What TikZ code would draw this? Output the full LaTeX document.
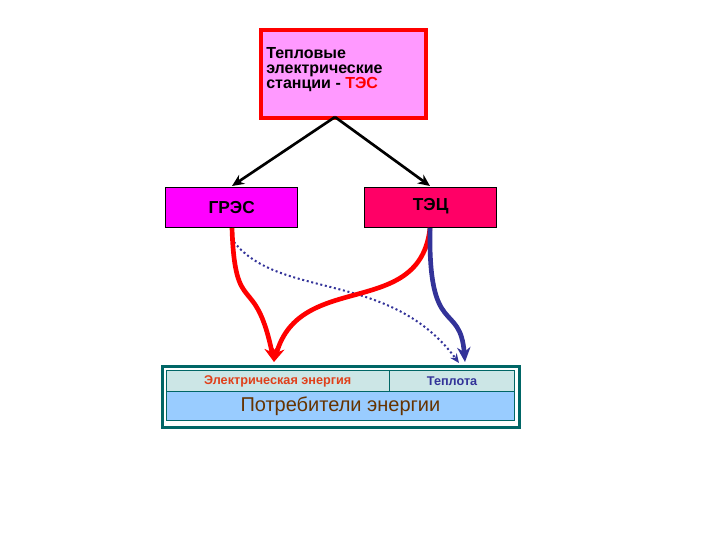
\documentclass[tikz,border=0pt]{standalone}
\usepackage{fontspec}
\setmainfont{Liberation Sans}
\usetikzlibrary{arrows.meta}
\definecolor{toppink}{HTML}{FF99FF}
\definecolor{grescol}{HTML}{FF00FF}
\definecolor{teccol}{HTML}{FF0066}
\definecolor{tealb}{HTML}{006666}
\definecolor{rowc}{HTML}{CCE6E6}
\definecolor{lowc}{HTML}{99CCFF}
\definecolor{bluec}{HTML}{333399}
\definecolor{brownc}{HTML}{663300}
\definecolor{elc}{HTML}{E0401A}
\begin{document}
\begin{tikzpicture}[x=0.75pt,y=-0.75pt,
 box/.style={draw=black,line width=1pt,inner sep=0pt,font=\bfseries\fontsize{13}{14}\selectfont},
 blk/.style={-{Stealth[length=9pt,width=8pt]},line width=2pt},
 red/.style={-{Stealth[length=11pt,width=10pt]},line width=3.5pt,draw=red},
 blu/.style={-{Stealth[length=11pt,width=10pt]},line width=3.5pt,draw=bluec}]
\useasboundingbox (0,0) rectangle (720,540);
\node[draw=red,line width=3pt,fill=toppink,minimum width=165\pgflinewidth/3,inner sep=0pt,anchor=north west,minimum width=124pt,minimum height=66pt] (tes) at (259,28) {};
\node[anchor=north west,align=left,font=\bfseries\fontsize{12}{11.5}\selectfont,inner sep=0pt] (testxt) at (266,47) {Тепловые\\электрические\\станции - \textcolor{red}{ТЭС}};
\node[box,fill=grescol,anchor=north west,minimum width=99pt,minimum height=30pt] (gres) at (165,187) {ГРЭС};
\node[box,fill=teccol,anchor=north west,minimum width=99pt,minimum height=30pt] (tec) at (364,187) {\raisebox{5pt}{ТЭЦ}};
\node[draw=tealb,line width=2pt,fill=white,anchor=north west,minimum width=268pt,minimum height=46pt,inner sep=0pt] (outer) at (161,365) {};
\node[draw=tealb,line width=0.6pt,fill=rowc,anchor=north west,minimum width=167pt,minimum height=16pt,inner sep=0pt,font=\bfseries\fontsize{9.5}{10}\selectfont,text=elc] (el) at (166,370) {\raisebox{2pt}{Электрическая энергия}};
\node[draw=tealb,line width=0.6pt,fill=rowc,anchor=north west,minimum width=94pt,minimum height=16pt,inner sep=0pt,font=\bfseries\fontsize{9.5}{10}\selectfont,text=bluec] (tep) at (389,370) {Теплота};
\node[draw=tealb,line width=0.6pt,fill=lowc,anchor=north west,minimum width=261pt,minimum height=22pt,inner sep=0pt,font=\fontsize{15}{16}\selectfont,text=brownc] (cons) at (166,391) {Потребители энергии};
\coordinate (topb) at (335,117);
\draw[blk] (topb) -- (232,186);
\draw[blk] (topb) -- (430,186);
\coordinate (g1) at (232,228);
\coordinate (t1) at (430,228);
\coordinate (elTarget) at (274,362);
\coordinate (tepTarget) at (465,362);
\draw[bluec,line width=1.5pt,dotted,-{Stealth[length=7pt,width=6pt]}] (234,242) .. controls (280,300) and (390,270) .. (459,363);
\draw[red] (g1) .. controls (235,320) and (255,270) .. (elTarget);
\draw[red] (t1) .. controls (420,320) and (300,270) .. (elTarget);
\draw[blu] (t1) .. controls (428,340) and (460,300) .. (tepTarget);
\end{tikzpicture}
\end{document}
